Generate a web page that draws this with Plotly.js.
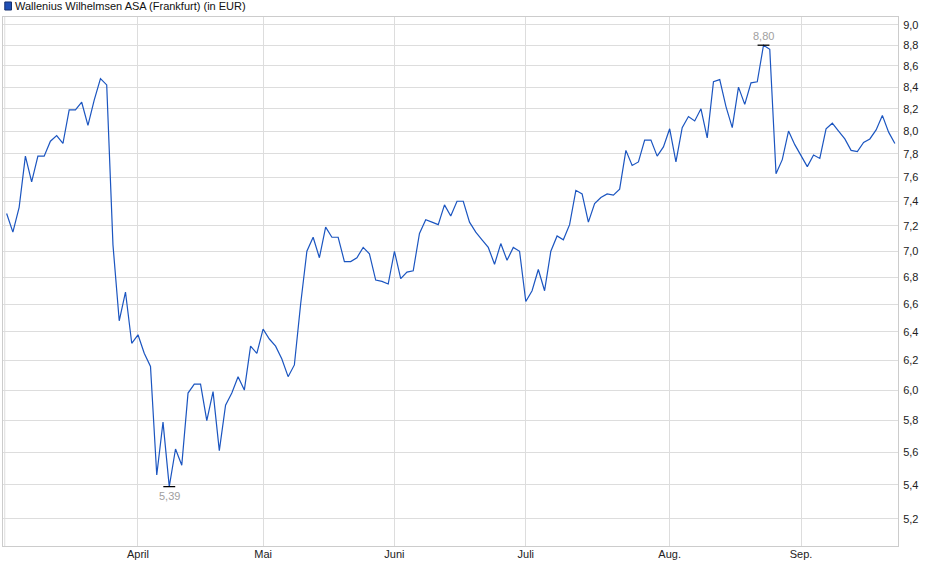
<!DOCTYPE html>
<html>
<head>
<meta charset="utf-8">
<script src="https://cdn.plot.ly/plotly-3.0.1.min.js"></script>
<style>
  body { margin: 0; background: #fff; }
  #myDiv { width: 940px; height: 579px; }
</style>
</head>
<body>
<div id="myDiv"></div>
<script>
const chartTitle = 'Wallenius Wilhelmsen ASA (Frankfurt) (in EUR)';

// daily closing prices, mid March to mid September (one value per trading day)
const prices = [
  7.30, 7.15, 7.35, 7.78, 7.56, 7.78, 7.78, 7.91, 7.96, 7.89,
  8.19, 8.19, 8.26, 8.05, 8.28, 8.48, 8.42, 7.05, 6.48, 6.69,
  6.32, 6.38, 6.25, 6.16, 5.46, 5.79, 5.39, 5.62, 5.52, 5.98,
  6.04, 6.04, 5.80, 5.99, 5.61, 5.90, 5.98, 6.09, 6.00, 6.30,
  6.25, 6.42, 6.35, 6.30, 6.21, 6.09, 6.17, 6.60, 7.00, 7.11,
  6.95, 7.19, 7.11, 7.11, 6.92, 6.92, 6.95, 7.03, 6.98, 6.78,
  6.77, 6.75, 7.00, 6.79, 6.84, 6.85, 7.14, 7.25, 7.23, 7.21,
  7.37, 7.28, 7.40, 7.40, 7.23, 7.15, 7.09, 7.03, 6.90, 7.06,
  6.93, 7.03, 7.00, 6.62, 6.70, 6.86, 6.70, 7.00, 7.12, 7.09,
  7.21, 7.49, 7.46, 7.23, 7.38, 7.43, 7.46, 7.45, 7.50, 7.83,
  7.70, 7.73, 7.92, 7.92, 7.78, 7.86, 8.02, 7.73, 8.03, 8.13,
  8.09, 8.20, 7.94, 8.45, 8.47, 8.22, 8.03, 8.40, 8.24, 8.44,
  8.45, 8.80, 8.76, 7.63, 7.75, 8.00, 7.88, 7.78, 7.69, 7.79,
  7.76, 8.02, 8.07, 8.00, 7.93, 7.83, 7.82, 7.90, 7.93, 8.01,
  8.14, 7.99, 7.89
];

// index of the first trading day of each month
const monthIndex = [21, 41, 62, 83, 106, 127];
const monthLabels = ['April', 'Mai', 'Juni', 'Juli', 'Aug.', 'Sep.'];

const priceTicks = [5.2, 5.4, 5.6, 5.8, 6.0, 6.2, 6.4, 6.6, 6.8, 7.0, 7.2, 7.4, 7.6, 7.8, 8.0, 8.2, 8.4, 8.6, 8.8, 9.0];

let xdata = [...prices.keys()];

let maxVal = Math.max(...prices);
let minVal = Math.min(...prices);
let maxIdx = prices.indexOf(maxVal);
let minIdx = prices.indexOf(minVal);

const fmt = (v) => v.toFixed(2).replace('.', ',');

let trace = {
  x: xdata,
  y: prices,
  type: 'scatter',
  mode: 'lines',
  line: { color: '#1b55c0', width: 1.2 },
  hoverinfo: 'skip'
};

// short black bars under the high and over the low
let markerBars = {
  x: [maxIdx - 0.95, maxIdx + 0.95, null, minIdx - 0.95, minIdx + 0.95],
  y: [maxVal, maxVal, null, minVal, minVal],
  type: 'scatter',
  mode: 'lines',
  line: { color: '#000000', width: 1.3 },
  connectgaps: false,
  hoverinfo: 'skip'
};

let layout = {
  width: 940,
  height: 579,
  margin: { l: 3, r: 42, t: 17, b: 33 },
  paper_bgcolor: '#ffffff',
  plot_bgcolor: '#ffffff',
  showlegend: false,
  separators: ',.',
  font: { family: 'Liberation Sans, Arial, sans-serif', size: 11, color: '#333333' },
  xaxis: {
    range: [-0.58, 142.5],
    tickvals: monthIndex,
    ticktext: monthLabels,
    showgrid: true,
    gridcolor: '#dddddd',
    gridwidth: 1,
    zeroline: false,
    showline: true,
    mirror: true,
    linecolor: '#cccccc',
    linewidth: 1,
    ticks: '',
    ticklabelstandoff: -2,
    tickfont: { family: 'Liberation Sans, Arial, sans-serif', size: 11, color: '#222222' }
  },
  yaxis: {
    type: 'log',
    side: 'right',
    range: [Math.log10(5.046), Math.log10(9.08)],
    tickvals: priceTicks,
    tickformat: '.1f',
    showgrid: true,
    gridcolor: '#dddddd',
    gridwidth: 1,
    zeroline: false,
    showline: true,
    mirror: true,
    linecolor: '#cccccc',
    linewidth: 1,
    ticks: '',
    ticklabelstandoff: 2,
    tickfont: { family: 'Liberation Sans, Arial, sans-serif', size: 11, color: '#222222' }
  },
  shapes: [
    // legend square
    { type: 'rect', xref: 'paper', yref: 'paper', x0: 0.002, x1: 0.0095, y0: 1.0132, y1: 1.0284,
      fillcolor: '#1f4fb5', line: { color: '#15306e', width: 1 } },
    // inner left line
    { type: 'line', xref: 'x', yref: 'paper', x0: -0.3, x1: -0.3, y0: 0, y1: 1,
      line: { color: '#dddddd', width: 1 } }
  ],
  annotations: [
    { xref: 'paper', yref: 'paper', x: 0.011, y: 1.0208, xanchor: 'left', yanchor: 'middle',
      text: chartTitle, showarrow: false,
      font: { family: 'Liberation Sans, Arial, sans-serif', size: 11, color: '#111111' } },
    { x: maxIdx, y: Math.log10(maxVal), xanchor: 'center', yanchor: 'bottom', yshift: 1,
      text: fmt(maxVal), showarrow: false,
      font: { family: 'Liberation Sans, Arial, sans-serif', size: 11, color: '#a0a0a0' } },
    { x: minIdx, y: Math.log10(minVal), xanchor: 'center', yanchor: 'top', yshift: -1,
      text: fmt(minVal), showarrow: false,
      font: { family: 'Liberation Sans, Arial, sans-serif', size: 11, color: '#a0a0a0' } }
  ]
};

Plotly.newPlot('myDiv', [trace, markerBars], layout, { staticPlot: true, displayModeBar: false });
</script>
</body>
</html>
